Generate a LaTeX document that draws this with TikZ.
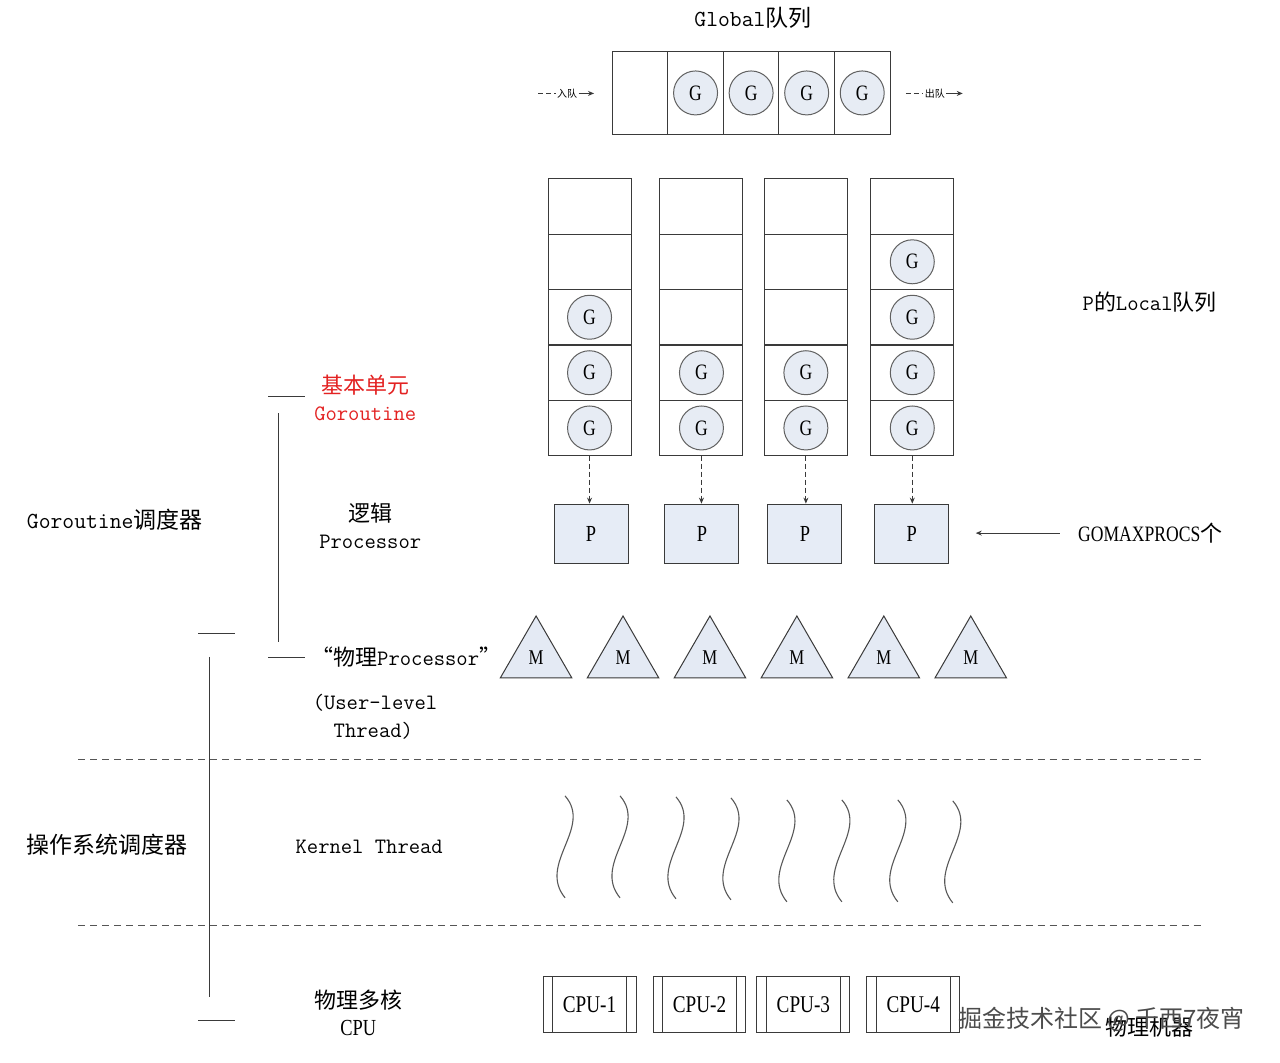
\documentclass[tikz,border=0pt]{standalone}
\usepackage{fontspec}
\newfontfamily\cjk{Noto Sans CJK SC}
\newfontfamily\nserif[FakeStretch=0.8]{Liberation Serif}
\newcommand{\zh}[1]{{\cjk #1}}
\usetikzlibrary{arrows.meta,shapes.geometric}
\definecolor{linec}{HTML}{3A3A3A}
\definecolor{gfill}{HTML}{E7ECF4}
\definecolor{pfill}{HTML}{E6ECF6}
\definecolor{mfill}{HTML}{E4EAF4}
\definecolor{redt}{HTML}{E32222}
\definecolor{dashc}{HTML}{555555}
\tikzset{
  every path/.style={line width=1pt, draw=linec},
  gcell/.style={draw=linec, minimum width=55.6pt, minimum height=83pt, inner sep=0pt, outer sep=0pt},
  lcell/.style={draw=linec, minimum width=83pt, minimum height=55.4pt, inner sep=0pt, outer sep=0pt},
  gcirc/.style={circle, draw=linec!80, fill=gfill, minimum size=44pt, inner sep=0pt, font=\nserif\fontsize{22}{22}\selectfont},
  pbox/.style={draw=linec, fill=pfill, minimum width=74pt, minimum height=59pt, inner sep=0pt, font=\nserif\fontsize{23}{23}\selectfont},
  mtri/.style={regular polygon, regular polygon sides=3, draw=linec, fill=mfill, minimum size=82.7pt, inner sep=0pt, font=\nserif\fontsize{21}{21}\selectfont},
  cpubox/.style={draw=linec, minimum width=93pt, minimum height=56pt, inner sep=0pt, font=\nserif\fontsize{24}{24}\selectfont},
  lbl/.style={font=\ttfamily\fontsize{22}{28}\selectfont, inner sep=0pt, text=black},
  small/.style={font=\fontsize{10}{10}\selectfont, inner sep=1pt},
  sep/.style={draw=dashc, dash pattern=on 7pt off 5pt},
  arr/.style={-{Stealth[length=6pt,width=5pt]}},
  wave/.style={draw=linec!85, line width=1.1pt}
}
\begin{document}
\begin{tikzpicture}[x=1pt,y=-1pt]
\useasboundingbox (0,0) rectangle (1280,1062);
\fill[white] (0,0) rectangle (1280,1062);

% Global queue
\node[lbl, font=\ttfamily\fontsize{23}{28}\selectfont] (gtitle) at (753,17) {Global\zh{队列}};
\foreach \i/\x in {1/640,2/695.6,3/751.2,4/806.8,5/862.4}
  \node[gcell] (Q\i) at (\x,92.5) {};
\foreach \i in {2,3,4,5}
  \node[gcirc] (gq\i) at (Q\i) {G};
\coordinate (inA) at (538,93);
\node[small] (inq) at (567,93) {\zh{入队}};
\coordinate (inB) at (594,93);
\draw[dash pattern=on 5pt off 3pt] (inA) -- (inq.west);
\draw[arr] (inq.east) -- (inB);
\coordinate (outA) at (906,93);
\node[small] (outq) at (935,93) {\zh{出队}};
\coordinate (outB) at (963,93);
\draw[dash pattern=on 5pt off 3pt] (outA) -- (outq.west);
\draw[arr] (outq.east) -- (outB);

% Local queues
\foreach \c/\x in {1/589.5,2/701.5,3/806,4/912.5}
  \foreach \r/\y in {1/206,2/261.5,3/317,4/372.5,5/427.8}
    \node[lcell] (L\c\r) at (\x,\y) {};
\foreach \c/\r in {1/3,1/4,1/5,2/4,2/5,3/4,3/5,4/2,4/3,4/4,4/5}
  \node[gcirc] (g\c\r) at (L\c\r) {G};
\node[lbl] (loclbl) at (1150,302) {P\zh{的}Local\zh{队列}};

% P boxes
\foreach \c/\x in {1/591,2/702,3/805,4/912}
  \node[pbox] (P\c) at (\x,533.5) {P};
\foreach \c in {1,2,3,4}
  \draw[arr, dash pattern=on 5pt off 3pt] (L\c5.south) -- (L\c5.south |- P\c.north);
\node[lbl, anchor=west, font=\nserif\fontsize{22}{22}\selectfont] (gomax) at (1078,533) {GOMAXPROCS\zh{个}};
\coordinate (gmA) at (1060,533);
\coordinate (gmB) at (976,533);
\draw[arr] (gmA) -- (gmB);

% M triangles
\foreach \i/\x in {1/536,2/623,3/710,4/797,5/884,6/971}
  \node[mtri] (M\i) at (\x,657.3) {M};

% left labels
\node[lbl, anchor=west, font=\ttfamily\fontsize{23}{28}\selectfont] (gsched) at (26,520) {Goroutine\zh{调度器}};
\node[lbl, anchor=west, font=\cjk\fontsize{23}{23}\selectfont] (ossched) at (26,845) {操作系统调度器};
\node[lbl, text=redt, font=\cjk\fontsize{22}{22}\selectfont] (basic) at (365,385) {基本单元};
\node[lbl, text=redt] (gor) at (365,414) {Goroutine};
\node[lbl, font=\cjk\fontsize{22}{22}\selectfont] (logic) at (370,513) {逻辑};
\node[lbl] (proc) at (370,542) {Processor};
\node[lbl] (phys) at (406,657) {\zh{“物理}Processor\zh{”}};
\node[lbl, anchor=west] (ul1) at (312,703) {(User-level};
\node[lbl, anchor=west] (ul2) at (333,731) {Thread)};
\node[lbl] (kt) at (369,847) {Kernel Thread};
\node[lbl, font=\cjk\fontsize{22}{22}\selectfont] (multi) at (358,1000) {物理多核};
\node[lbl, font=\nserif\fontsize{23}{23}\selectfont] (cpul) at (358,1028) {CPU};

% brackets
\draw (268,396) -- (305,396);
\draw (278,413) -- (278,642);
\draw (268,658) -- (305,658);
\draw (198,633) -- (235,633);
\draw (209,657) -- (209,997);
\draw (198,1021) -- (235,1021);

% separators
\draw[sep] (78,760) -- (1202,760);
\draw[sep] (78,926) -- (1202,926);

% kernel threads
\foreach \x/\d in {565/0,620/0,676/1,731/2,787/4,842/4,898/4,953/5}
  \draw[wave] (\x,796+\d) .. controls (\x+28,828+\d) and (\x-28,864+\d) .. (\x,898+\d);

% CPUs
\foreach \i/\x in {1/589.5,2/699.5,3/803.5,4/913.5}{
  \node[cpubox] (C\i) at (\x,1005) {CPU-\i};
  \draw ([xshift=10pt]C\i.north west) -- ([xshift=10pt]C\i.south west);
  \draw ([xshift=-10pt]C\i.north east) -- ([xshift=-10pt]C\i.south east);
}
\node[lbl, font=\cjk\fontsize{22}{22}\selectfont] (machine) at (1150,1027) {物理机器};
\node[lbl, font=\cjk\fontsize{24}{24}\selectfont, text=black!70] (wm) at (1102,1020) {掘金技术社区 @ 千西7夜宵};
\end{tikzpicture}
\end{document}
